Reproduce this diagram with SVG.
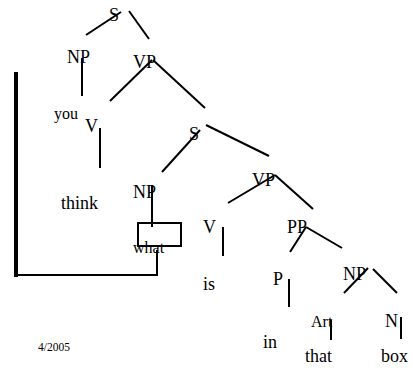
<svg xmlns="http://www.w3.org/2000/svg" width="413" height="370" viewBox="0 0 413 370">
<style>
text{font-family:"Liberation Serif","Times New Roman",serif;fill:#000}
.lab{font-size:18px}
.wd{font-size:18px}
.sm{font-size:16px}
.dt{font-size:11.5px}
.c line,.c path,.c rect{stroke:#000;stroke-width:2;fill:none}
.c .thick{stroke-width:4}
</style>
<rect width="413" height="370" fill="#fff"/>
<g class="c" id="connectors">
<line x1="86" y1="35" x2="121" y2="12"/>
<line x1="129" y1="11" x2="149" y2="39"/>
<line x1="82" y1="58" x2="82" y2="96"/>
<line x1="110" y1="101" x2="152" y2="60"/>
<line x1="153" y1="60" x2="205" y2="108"/>
<line x1="100" y1="128" x2="100" y2="168"/>
<line x1="162" y1="172" x2="200" y2="130"/>
<line x1="206" y1="125" x2="269" y2="156"/>
<line x1="152" y1="185" x2="152" y2="227"/>
<rect x="138" y="223" width="43" height="23"/>
<path d="M157 250V275H16"/>
<line class="thick" x1="16" y1="72" x2="16" y2="277"/>
<line x1="228" y1="203" x2="275" y2="175"/>
<line x1="275" y1="175" x2="313" y2="209"/>
<line x1="223" y1="227" x2="223" y2="256"/>
<line x1="290" y1="252" x2="306" y2="227"/>
<line x1="306" y1="227" x2="342" y2="248"/>
<line x1="289" y1="279" x2="289" y2="307"/>
<line x1="344" y1="293" x2="368" y2="268"/>
<line x1="373" y1="269" x2="397" y2="293"/>
<line x1="331" y1="320" x2="331" y2="340"/>
<line x1="401" y1="317" x2="401" y2="339"/>
</g>
<g id="n-S"><text class="lab" x="109" y="21">S</text></g>
<g id="n-NP1"><text class="lab" x="67" y="63">NP</text></g>
<g id="n-VP1"><text class="lab" x="133" y="68">VP</text></g>
<g id="n-you"><text class="sm" x="54" y="119">you</text></g>
<g id="n-V1"><text class="lab" x="85" y="132">V</text></g>
<g id="n-S2"><text class="lab" x="189" y="140">S</text></g>
<g id="n-think"><text class="wd" x="61" y="209">think</text></g>
<g id="n-NP2"><text class="lab" x="133" y="198">NP</text></g>
<g id="n-what"><text class="sm" x="133" y="253">what</text></g>
<g id="n-VP2"><text class="lab" x="252" y="186">VP</text></g>
<g id="n-V2"><text class="lab" x="203" y="233">V</text></g>
<g id="n-is"><text class="wd" x="203" y="290">is</text></g>
<g id="n-PP"><text class="lab" x="287" y="233">PP</text></g>
<g id="n-P"><text class="lab" x="273" y="285">P</text></g>
<g id="n-NP3"><text class="lab" x="343" y="280">NP</text></g>
<g id="n-Art"><text class="sm" x="311" y="327">Art</text></g>
<g id="n-N"><text class="lab" x="385" y="327">N</text></g>
<g id="n-in"><text class="wd" x="263" y="348">in</text></g>
<g id="n-that"><text class="wd" x="305" y="362">that</text></g>
<g id="n-box"><text class="wd" x="381" y="362">box</text></g>
<g id="date"><text class="dt" x="38" y="351">4/2005</text></g>
</svg>
